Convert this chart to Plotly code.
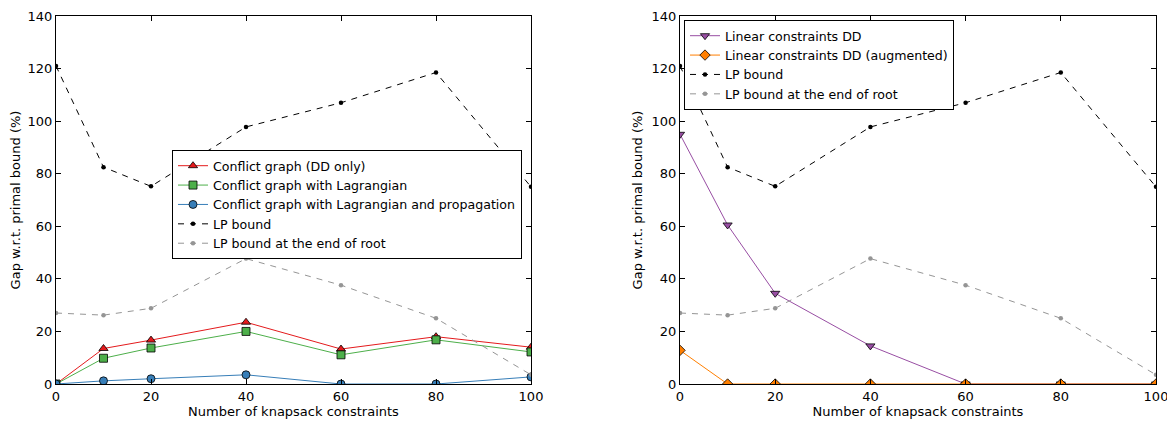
import plotly.graph_objects as go

x = [0, 10, 20, 40, 60, 80, 100]
lp_bound = [121, 82.5, 75.2, 97.8, 107, 118.5, 75]
lp_root = [27, 26.2, 28.8, 47.7, 37.6, 25, 3.5]
cg_dd = [0, 13.5, 16.7, 23.5, 13.3, 18, 14]
cg_lag = [0, 9.8, 13.7, 20, 11.1, 16.8, 12.2]
cg_prop = [0, 1.2, 2, 3.5, 0, 0, 2.7]
lin_dd = [95, 60.5, 34.5, 14.5, 0, 0, 0]
lin_aug = [12.8, 0, 0, 0, 0, 0, 0]

xticks = [0, 20, 40, 60, 80, 100]
yticks = [0, 20, 40, 60, 80, 100, 120, 140]

fig = go.Figure()

def solid(name, y, color, symbol, xa, ya, legend):
    fig.add_trace(go.Scatter(
        x=x, y=y, name=name, mode="lines+markers", xaxis=xa, yaxis=ya, legend=legend,
        line=dict(color=color, width=1),
        marker=dict(symbol=symbol, size=8, color=color, line=dict(color="black", width=0.8)),
    ))

def dashed(name, y, color, xa, ya, legend):
    fig.add_trace(go.Scatter(
        x=x, y=y, name=name, mode="lines+markers", xaxis=xa, yaxis=ya, legend=legend,
        line=dict(color=color, width=1, dash="6px,6px"),
        marker=dict(symbol="circle", size=4.5, color=color),
    ))

solid("Conflict graph (DD only)", cg_dd, "#e41a1c", "triangle-up", "x", "y", "legend")
solid("Conflict graph with Lagrangian", cg_lag, "#4daf4a", "square", "x", "y", "legend")
solid("Conflict graph with Lagrangian and propagation", cg_prop, "#377eb8", "circle", "x", "y", "legend")
dashed("LP bound", lp_bound, "black", "x", "y", "legend")
dashed("LP bound at the end of root", lp_root, "#959595", "x", "y", "legend")

solid("Linear constraints DD", lin_dd, "#984ea3", "triangle-down", "x2", "y2", "legend2")
solid("Linear constraints DD (augmented)", lin_aug, "#ff7f00", "diamond", "x2", "y2", "legend2")
dashed("LP bound", lp_bound, "black", "x2", "y2", "legend2")
dashed("LP bound at the end of root", lp_root, "#959595", "x2", "y2", "legend2")

FS = 13
LFS = 12.6
axis_common = dict(showgrid=False, zeroline=False, showline=True, linecolor="black", linewidth=1,
                   mirror="allticks", ticks="inside", ticklen=5, tickcolor="black", automargin=False,
                   tickfont=dict(size=FS, color="black"))

# page body has an 8px offset
OFF = 8
FW = 1175 - OFF
FH = 421 - OFF
L = 56 - OFF; R = 19; T = 16 - OFF; B = 37
W = FW - L - R
H = FH - T - B
d1 = [0, (531 - 56) / W]
d2 = [(680 - 56) / W, 1]

fig.update_layout(
    width=FW, height=FH,
    margin=dict(l=L, r=R, t=T, b=B),
    paper_bgcolor="white", plot_bgcolor="white",
    font=dict(family="DejaVu Sans", size=FS, color="black"),
    showlegend=True,
    xaxis=dict(domain=d1, range=[0, 100], tickvals=xticks, anchor="y",
               title=dict(text="Number of knapsack constraints", standoff=2, font=dict(size=FS)), **axis_common),
    yaxis=dict(domain=[0, 1], range=[0, 140], tickvals=yticks, anchor="x",
               title=dict(text="Gap w.r.t. primal bound (%)", standoff=6, font=dict(size=FS)), **axis_common),
    xaxis2=dict(domain=d2, range=[0, 100], tickvals=xticks, anchor="y2",
                title=dict(text="Number of knapsack constraints", standoff=2, font=dict(size=FS)), **axis_common),
    yaxis2=dict(domain=[0, 1], range=[0, 140], tickvals=yticks, anchor="x2",
                title=dict(text="Gap w.r.t. primal bound (%)", standoff=6, font=dict(size=FS)), **axis_common),
    legend=dict(x=(172 - 56) / W, y=(384 - 150) / H, xanchor="left", yanchor="top",
                bgcolor="white", bordercolor="black", borderwidth=1,
                font=dict(size=LFS), tracegroupgap=0, itemwidth=30),
    legend2=dict(x=(684 - 56) / W, y=(384 - 20) / H, xanchor="left", yanchor="top",
                 bgcolor="white", bordercolor="black", borderwidth=1,
                 font=dict(size=LFS), tracegroupgap=0, itemwidth=30),
)

fig.write_html("out.html")
